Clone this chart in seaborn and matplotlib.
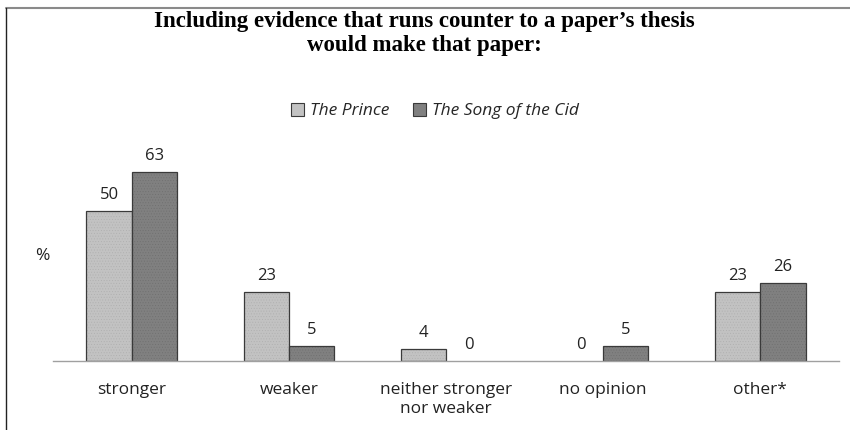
import matplotlib
matplotlib.use("Agg")
import matplotlib.pyplot as plt
import matplotlib.patches as mpatches
from matplotlib.ticker import FixedLocator
import seaborn as sns
import pandas as pd

categories = ["stronger", "weaker", "neither stronger\nnor weaker", "no opinion", "other*"]
series_names = ["The Prince", "The Song of the Cid"]
prince = [50, 23, 4, 0, 23]
cid = [63, 5, 0, 5, 26]

df = pd.DataFrame({
    "category": categories * 2,
    "series": [series_names[0]] * len(categories) + [series_names[1]] * len(categories),
    "value": prince + cid,
})

sns.set_theme(style="white")
plt.rcParams["font.family"] = ["Open Sans", "DejaVu Sans"]
plt.rcParams["hatch.linewidth"] = 0.3

light = "#c2c2c2"
dark = "#808080"

fig = plt.figure(figsize=(8.5, 4.3), dpi=100)
ax = fig.add_axes([53 / 850, 69 / 430, 786 / 850, 210 / 430])

sns.barplot(data=df, x="category", y="value", hue="series", order=categories,
            hue_order=series_names, palette=[light, dark], width=0.575, gap=0,
            saturation=1, edgecolor="#3a3a3a", linewidth=0.9, ax=ax, legend=False)

# fine dotted texture on the bars; zero-height bars stay invisible
for cont, hc in zip(ax.containers, ["#adadad", "#6e6e6e"]):
    for p in cont:
        p.set_hatch("......")
        p._hatch_color = matplotlib.colors.to_rgba(hc)
        if p.get_height() == 0:
            p.set_linewidth(0)
    ax.bar_label(cont, fmt="%d", padding=6, fontsize=12, color="#222222")

ax.set_ylim(0, 70)
ax.set_xlim(-0.5, len(categories) - 0.5)
ax.set_xlabel("")
ax.set_ylabel("")
ax.set_yticks([])
for s in ["top", "right", "left"]:
    ax.spines[s].set_visible(False)
ax.spines["bottom"].set_color("#a0a0a0")
ax.spines["bottom"].set_linewidth(1.0)

ax.tick_params(axis="x", which="major", length=0, pad=15, labelsize=12.5, labelcolor="#222222")
ax.xaxis.set_minor_locator(FixedLocator([i - 0.5 for i in range(len(categories) + 1)]))
ax.tick_params(axis="x", which="minor", length=5, width=1.0, color="#a0a0a0", direction="out")
for lbl in ax.get_xticklabels():
    lbl.set_linespacing(1.3)

fig.text(42 / 850, 1 - 256 / 430, "%", ha="center", va="center", fontsize=12.5, color="#222222")

fig.text(424 / 850, 1 - 22 / 430, "Including evidence that runs counter to a paper\u2019s thesis",
         ha="center", va="center", fontsize=16.5, fontweight="bold", family="Liberation Serif",
         color="black")
fig.text(424 / 850, 1 - 45 / 430, "would make that paper:",
         ha="center", va="center", fontsize=16.5, fontweight="bold", family="Liberation Serif",
         color="black")

handles = [mpatches.Patch(facecolor=light, edgecolor="#3a3a3a", linewidth=0.8),
           mpatches.Patch(facecolor=dark, edgecolor="#3a3a3a", linewidth=0.8)]
fig.legend(handles, series_names, loc="center", bbox_to_anchor=(435 / 850, 1 - 111 / 430),
           ncol=2, frameon=False, prop={"style": "italic", "size": 12.5},
           handlelength=0.75, handleheight=0.75, handletextpad=0.35, columnspacing=1.4)

# outer frame: top and left edges
fig.add_artist(plt.Line2D([6 / 850, 1], [1 - 8 / 430, 1 - 8 / 430], transform=fig.transFigure,
                          color="#8a8a8a", linewidth=1.5))
fig.add_artist(plt.Line2D([6 / 850, 6 / 850], [1 - 8 / 430, 0], transform=fig.transFigure,
                          color="#222222", linewidth=1.0))

fig.savefig("out.png", dpi=100)
